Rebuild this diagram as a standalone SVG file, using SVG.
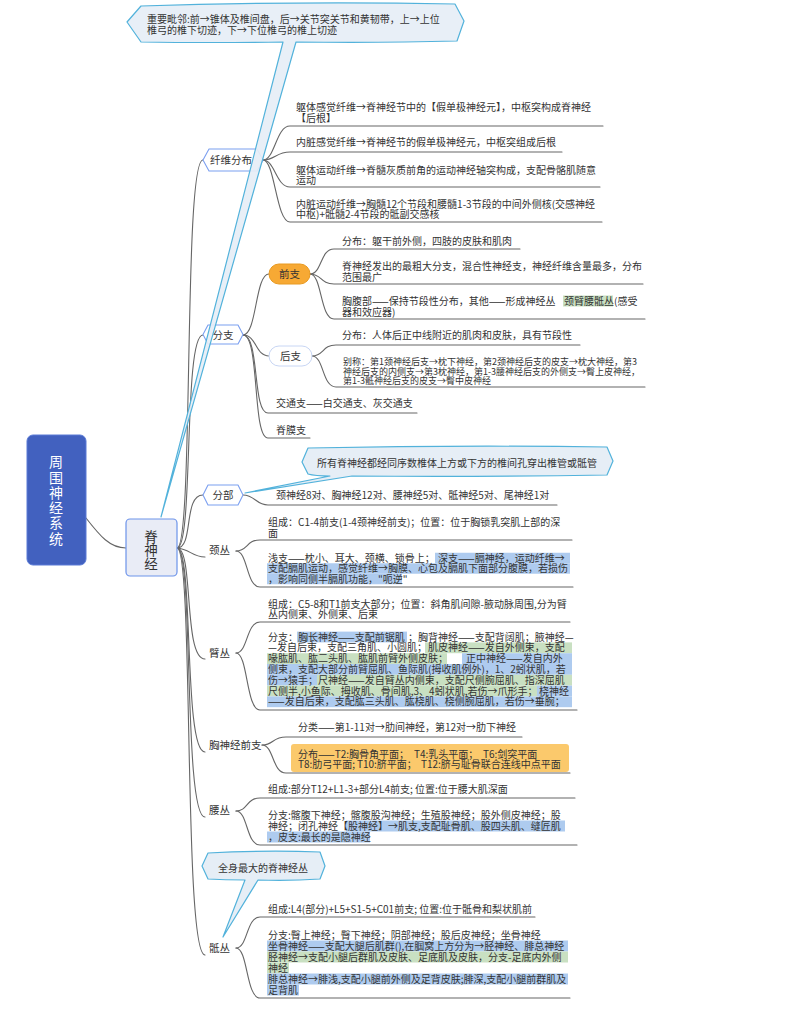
<svg xmlns="http://www.w3.org/2000/svg" width="792" height="1017" viewBox="0 0 792 1017">
<style>
.t{font-family:"Noto Sans CJK SC","Noto Sans",sans-serif;font-size:10px;fill:#333}
.s9{font-size:9px}
.lab{font-size:10.5px}
.c{fill:none;stroke:#666;stroke-width:1.1;stroke-linecap:round}
.hb{fill:#aecbef}
.hg{fill:#c9e0c2}
.call{fill:#e6eef6;stroke:#52b2db;stroke-width:1.2;stroke-linejoin:round}
.hex{fill:#fff;stroke:#7b9ff0;stroke-width:1.1;stroke-linejoin:round}
</style>
<rect width="792" height="1017" fill="#fff"/>

<g id="connectors">
<path class="c" d="M86,518 C100,536 110,548 126,548"/>
<path class="c" d="M177,548 C194,548 183,160 203,160"/>
<path class="c" d="M177,548 C194,548 183,335 203,335"/>
<path class="c" d="M177,548 C194,548 183,495 203,495"/>
<path class="c" d="M177,548 C190,549 192,557 205,557"/>
<path class="c" d="M177,548 C194,548 183,659 205,659"/>
<path class="c" d="M177,548 C194,548 183,752 205,752"/>
<path class="c" d="M177,548 C194,548 183,817 205,817"/>
<path class="c" d="M177,548 C194,548 183,955 205,955"/>

<path class="c" d="M263,160 C275,160 276,126 290,126 L603,126"/>
<path class="c" d="M263,160 C275,160 276,152 290,152 L562,152"/>
<path class="c" d="M263,160 C275,160 276,187 290,187 L600,187"/>
<path class="c" d="M263,160 C275,160 276,222 290,222 L602,222"/>

<path class="c" d="M243,335 C257,335 255,274 269,274"/>
<path class="c" d="M243,335 C257,335 255,356 269,356"/>
<path class="c" d="M243,335 C260,335 252,413 268,413 L417,413"/>
<path class="c" d="M243,335 C260,335 252,438 268,438 L310,438"/>

<path class="c" d="M310,274 C322,274 320,249 334,249 L520,249"/>
<path class="c" d="M310,274 C322,274 320,284 334,284 L643,284"/>
<path class="c" d="M310,274 C322,274 320,319 334,319 L645,319"/>

<path class="c" d="M312,356 C324,356 322,345 336,345 L580,345"/>
<path class="c" d="M312,356 C324,356 322,387 336,387 L645,387"/>

<path class="c" d="M243,495 C255,495 256,505 268,505 L557,505"/>

<path class="c" d="M236,551 C248,551 246,540 260,540 L572,540"/>
<path class="c" d="M236,551 C248,551 246,587 260,587 L573,587"/>

<path class="c" d="M236,653 C248,653 246,622 260,622 L570,622"/>
<path class="c" d="M236,653 C248,653 246,710 260,710 L577,710"/>

<path class="c" d="M262,745 C274,745 272,737 286,737 L522,737"/>
<path class="c" d="M262,745 C274,745 272,773 286,773 L570,773"/>

<path class="c" d="M236,811 C248,811 246,798 260,798 L575,798"/>
<path class="c" d="M236,811 C248,811 246,845 260,845 L577,845"/>

<path class="c" d="M236,948 C248,948 246,917 260,917 L535,917"/>
<path class="c" d="M236,948 C248,948 246,998 260,998 L570,998"/>
</g>

<g id="node-root">
<rect x="27" y="435" width="59" height="130" rx="6" fill="#4261bf" stroke="#5a7bd6" stroke-width="1"/>
<text class="t" style="font-size:14px;fill:#fff" text-anchor="middle"><tspan x="56" y="467">周</tspan><tspan x="56" y="482.5">围</tspan><tspan x="56" y="497.5">神</tspan><tspan x="56" y="512.5">经</tspan><tspan x="56" y="528">系</tspan><tspan x="56" y="543.5">统</tspan></text>
</g>

<g id="node-jishenjing">
<rect x="126" y="519" width="51" height="57" rx="4" fill="#e9ecf6" stroke="#6c93ea" stroke-width="1.2"/>
<text class="t" style="font-size:13.5px" text-anchor="middle"><tspan x="151" y="541.5">脊</tspan><tspan x="151" y="555">神</tspan><tspan x="151" y="568.5">经</tspan></text>
</g>

<g id="node-xianweifenbu">
<path class="hex" d="M203,160 L209,149 L257,149 L263,160 L257,171 L209,171 Z"/>
<text class="t lab" x="231" y="164" text-anchor="middle">纤维分布</text>
</g>
<g id="node-xianwei-items" class="t">
<text><tspan x="296" y="110.5">躯体感觉纤维→脊神经节中的【假单极神经元】，中枢突构成脊神经</tspan><tspan x="296" y="121.5">【后根】</tspan></text>
<text x="296" y="145.5">内脏感觉纤维→脊神经节的假单极神经元，中枢突组成后根</text>
<text><tspan x="296" y="173.5">躯体运动纤维→脊髓灰质前角的运动神经轴突构成，支配骨骼肌随意</tspan><tspan x="296" y="184">运动</tspan></text>
<text><tspan x="296" y="207.5">内脏运动纤维→胸髓12个节段和腰髓1-3节段的中间外侧核(交感神经</tspan><tspan x="296" y="218">中枢)+骶髓2-4节段的骶副交感核</tspan></text>
</g>

<g id="node-fenzhi">
<path class="hex" d="M203,334.5 L208,325 L238,325 L243,334.5 L238,344 L208,344 Z"/>
<text class="t lab" x="223" y="338.5" text-anchor="middle">分支</text>
</g>

<g id="node-qianzhi">
<rect x="269" y="264" width="41" height="20" rx="10" fill="#f7a934" stroke="#e89a22" stroke-width="1"/>
<text class="t lab" x="289.5" y="278" text-anchor="middle">前支</text>
</g>
<g id="node-qianzhi-items" class="t">
<text x="342" y="244.5">分布：躯干前外侧，四肢的皮肤和肌肉</text>
<text><tspan x="342" y="269.5">脊神经发出的最粗大分支，混合性神经支，神经纤维含量最多，分布</tspan><tspan x="342" y="280.5">范围最广</tspan></text>
<rect class="hg" x="563" y="295.5" width="50" height="11"/>
<text><tspan x="342" y="304.5">胸腹部——保持节段性分布，其他——形成神经丛</tspan><tspan x="564" y="304.5">颈臂腰骶丛</tspan><tspan x="614" y="304.5">(感受</tspan><tspan x="342" y="315.5">器和效应器)</tspan></text>
</g>

<g id="node-houzhi">
<rect x="269" y="346" width="43" height="20" rx="10" fill="#fff" stroke="#c8d6f4" stroke-width="1"/>
<text class="t lab" x="290.5" y="360" text-anchor="middle">后支</text>
</g>
<g id="node-houzhi-items" class="t">
<text x="342" y="338.5">分布：人体后正中线附近的肌肉和皮肤，具有节段性</text>
<text class="s9"><tspan x="343" y="365">别称：第1颈神经后支→枕下神经，第2颈神经后支的皮支→枕大神经，第3</tspan><tspan x="343" y="374.5">神经后支的内侧支→第3枕神经，第1-3腰神经后支的外侧支→臀上皮神经，</tspan><tspan x="343" y="384">第1-3骶神经后支的皮支→臀中皮神经</tspan></text>
</g>

<g id="node-jiaotongzhi" class="t">
<text x="276" y="407">交通支——白交通支、灰交通支</text>
</g>
<g id="node-jimozhi" class="t">
<text x="276" y="433.5">脊膜支</text>
</g>

<g id="node-fenbu">
<path class="hex" d="M203,495 L208,485 L238,485 L243,495 L238,505 L208,505 Z"/>
<text class="t lab" x="223" y="499" text-anchor="middle">分部</text>
</g>
<g id="node-fenbu-items" class="t">
<text x="276" y="498.5">颈神经8对、胸神经12对、腰神经5对、骶神经5对、尾神经1对</text>
</g>

<g id="node-jingcong" class="t">
<text class="lab" x="209" y="554">颈丛</text>
<text><tspan x="268" y="525.5">组成：C1-4前支(1-4颈神经前支)；位置：位于胸锁乳突肌上部的深</tspan><tspan x="268" y="536.5">面</tspan></text>
<rect class="hb" x="435" y="552.75" width="135" height="10.5"/>
<rect class="hb" x="267" y="563.25" width="303" height="10.5"/>
<rect class="hb" x="267" y="573.75" width="135" height="10.5"/>
<text><tspan x="268" y="561.5">浅支——枕小、耳大、颈横、锁骨上；</tspan><tspan x="438" y="561.5">深支——膈神经，运动纤维→</tspan><tspan x="268" y="572">支配膈肌运动，感觉纤维→胸膜、心包及膈肌下面部分腹膜，若损伤</tspan><tspan x="268" y="582.5">，影响同侧半膈肌功能，"呃逆"</tspan></text>
</g>

<g id="node-bicong" class="t">
<text class="lab" x="209" y="656.5">臂丛</text>
<text><tspan x="268" y="607.5">组成：C5-8和T1前支大部分；位置：斜角肌间隙-腋动脉周围,分为臂</tspan><tspan x="268" y="617.5">丛内侧束、外侧束、后束</tspan></text>
<rect class="hb" x="297" y="631.6" width="110" height="10.8"/>
<rect class="hg" x="425" y="642.4" width="147" height="10.8"/>
<rect class="hg" x="267" y="653.2" width="180" height="10.8"/>
<rect class="hb" x="462" y="653.2" width="110" height="10.8"/>
<rect class="hb" x="267" y="664" width="305" height="10.8"/>
<rect class="hb" x="267" y="674.8" width="50" height="10.8"/>
<rect class="hg" x="317" y="674.8" width="255" height="10.8"/>
<rect class="hg" x="267" y="685.6" width="270" height="10.8"/>
<rect class="hb" x="537" y="685.6" width="35" height="10.8"/>
<rect class="hb" x="267" y="696.4" width="305" height="10.8"/>
<text><tspan x="268" y="640.5">分支：</tspan><tspan x="298" y="640.5">胸长神经——支配前锯肌</tspan><tspan x="408" y="640.5">；胸背神经——支配背阔肌；腋神经—</tspan><tspan x="268" y="651.3">—发自后束，支配三角肌、小圆肌；</tspan><tspan x="428" y="651.3">肌皮神经——发自外侧束，支配</tspan><tspan x="268" y="662.1">喙肱肌、肱二头肌、肱肌前臂外侧皮肤；</tspan><tspan x="466" y="662.1">正中神经——发自内外</tspan><tspan x="268" y="672.9">侧束，支配大部分前臂屈肌、鱼际肌(拇收肌例外)，1、2蚓状肌，若</tspan><tspan x="268" y="683.7">伤→猿手；</tspan><tspan x="318" y="683.7">尺神经——发自臂丛内侧束，支配尺侧腕屈肌、指深屈肌</tspan><tspan x="268" y="694.5">尺侧半,小鱼际、拇收肌、骨间肌,3、4蚓状肌,若伤→爪形手；</tspan><tspan x="539" y="694.5">桡神经</tspan><tspan x="268" y="705.3">——发自后束，支配肱三头肌、肱桡肌、桡侧腕屈肌，若伤→垂腕；</tspan></text>
</g>

<g id="node-xiongshenjing" class="t">
<text class="lab" x="209" y="748.5">胸神经前支</text>
<text x="298" y="730.5">分类——第1-11对→肋间神经，第12对→肋下神经</text>
<rect x="291" y="744" width="278" height="28" rx="3" fill="#fbc96c"/>
<text><tspan x="298" y="757.5">分布——T2:胸骨角平面；</tspan><tspan x="414" y="757.5">T4:乳头平面；</tspan><tspan x="483" y="757.5">T6:剑突平面</tspan><tspan x="298" y="767.5">T8:肋弓平面;</tspan><tspan x="357" y="767.5">T10:脐平面；</tspan><tspan x="421" y="767.5">T12:脐与耻骨联合连线中点平面</tspan></text>
</g>

<g id="node-yaocong" class="t">
<text class="lab" x="209" y="814">腰丛</text>
<text x="268" y="792.5">组成:部分T12+L1-3+部分L4前支; 位置:位于腰大肌深面</text>
<rect class="hb" x="346" y="820.5" width="219" height="11"/>
<rect class="hb" x="267" y="831.5" width="103" height="11"/>
<text><tspan x="268" y="818.5">分支:髂腹下神经；髂腹股沟神经；生殖股神经；股外侧皮神经；股</tspan><tspan x="268" y="829.5">神经；闭孔神经【</tspan><tspan x="348" y="829.5">股神经】→肌支,支配耻骨肌、股四头肌、缝匠肌</tspan><tspan x="268" y="840.5">，皮支:最长的是隐神经</tspan></text>
</g>

<g id="node-dicong" class="t">
<text class="lab" x="209" y="951.5">骶丛</text>
<text x="268" y="912.5">组成:L4(部分)+L5+S1-5+C01前支; 位置:位于骶骨和梨状肌前</text>
<rect class="hb" x="267" y="940.5" width="301" height="11"/>
<rect class="hg" x="267" y="951.5" width="301" height="11"/>
<rect class="hg" x="267" y="962.5" width="22" height="11"/>
<rect class="hb" x="267" y="973.5" width="301" height="11"/>
<rect class="hb" x="267" y="984.5" width="32" height="11"/>
<text><tspan x="268" y="938.5">分支:臀上神经；臀下神经；阴部神经；股后皮神经；坐骨神经</tspan><tspan x="268" y="949.5">坐骨神经——支配大腿后肌群(),在腘窝上方分为→胫神经、腓总神经</tspan><tspan x="268" y="960.5">胫神经→支配小腿后群肌及皮肤、足底肌及皮肤，分支-足底内外侧</tspan><tspan x="268" y="971.5">神经</tspan><tspan x="268" y="982.5">腓总神经→腓浅,支配小腿前外侧及足背皮肤;腓深,支配小腿前群肌及</tspan><tspan x="268" y="993.5">足背肌</tspan></text>
</g>

<g id="callout-top">
<path class="call" fill-opacity="0.92" d="M127,22 L141,6 Q300,1 455,4 L464,21 L457,41 Q380,43 296,42 L161,517 L283,42 Q210,43 141,42 Z"/>
<text class="t"><tspan x="147" y="23">重要毗邻:前→锥体及椎间盘，后→关节突关节和黄韧带，上→上位</tspan><tspan x="147" y="33.5">椎弓的椎下切迹，下→下位椎弓的椎上切迹</tspan></text>
</g>

<g id="callout-fenbu">
<path class="call" d="M302,462 L308,448 Q460,445 607,447 L613,461 L607,475 Q480,477 352,476 L245,493 L330,476 Q315,476 308,474 Z"/>
<text class="t" x="317" y="466.5">所有脊神经都经同序数椎体上方或下方的椎间孔穿出椎管或骶管</text>
</g>

<g id="callout-dicong">
<path class="call" d="M202,866 L208,853 Q265,850 320,852 L325,866 L320,879 Q290,881 258,880 L223,937 L245,880 Q225,880 208,879 Z"/>
<text class="t" x="218" y="871.5">全身最大的脊神经丛</text>
</g>
</svg>
